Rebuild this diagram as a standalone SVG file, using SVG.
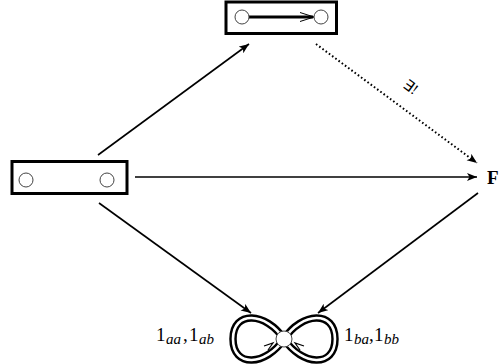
<svg xmlns="http://www.w3.org/2000/svg" width="499" height="364" viewBox="0 0 499 364">
<style>
.box{fill:none;stroke:#000;stroke-width:3}
.pt{fill:#fff;stroke:#444;stroke-width:1}
.edge{fill:none;stroke:#000;stroke-width:1.6}
.dot{fill:none;stroke:#000;stroke-width:2;stroke-dasharray:1.6 2.4}
.loopo{fill:none;stroke:#000;stroke-width:7.5}
.loopi{fill:none;stroke:#fff;stroke-width:2.6}
.lbl{font-family:"Liberation Serif",serif;font-size:19px;fill:#000}
.sub{font-style:italic;font-size:15px}
</style>
<defs>
<marker id="ah" markerUnits="userSpaceOnUse" markerWidth="12" markerHeight="10" refX="10" refY="4" orient="auto">
<path d="M0,0 L10,4 L0,8 L2.5,4 z" fill="#000"/>
</marker>
</defs>
<g id="edges">
<line class="edge" x1="98" y1="155" x2="249" y2="44" marker-end="url(#ah)"/>
<line class="edge" x1="135" y1="177" x2="477" y2="177" marker-end="url(#ah)"/>
<line class="edge" x1="99" y1="203" x2="251" y2="313" marker-end="url(#ah)"/>
<line class="edge" x1="478" y1="193" x2="318" y2="313" marker-end="url(#ah)"/>
<line class="dot" x1="316" y1="44" x2="477" y2="163" marker-end="url(#ah)"/>
<text class="lbl" text-anchor="middle" transform="translate(411,87) rotate(36)" y="5" style="font-size:15px">∃!</text>
</g>
<g id="top">
<rect class="box" x="226" y="2" width="110.5" height="31.5"/>
<line x1="249" y1="17" x2="313" y2="17" stroke="#000" stroke-width="3"/>
<path d="M300,12.5 L314,17 L300,21.5" fill="none" stroke="#000" stroke-width="1"/>
<circle class="pt" cx="242" cy="17" r="7"/>
<circle class="pt" cx="321" cy="17" r="7"/>
</g>
<g id="left">
<rect class="box" x="12" y="161.5" width="115" height="32"/>
<circle class="pt" cx="26" cy="180" r="7"/>
<circle class="pt" cx="107" cy="180" r="7"/>
</g>
<g id="F">
<text class="lbl" x="487" y="184" style="font-weight:bold;font-size:19px">F</text>
</g>
<g id="bottom">
<path class="loopo" d="M284,339 C266,312 233,310 233,339 C233,368 266,366 284,339 C302,312 335,310 335,339 C335,368 302,366 284,339 z"/>
<path class="loopi" d="M284,339 C266,312 233,310 233,339 C233,368 266,366 284,339 C302,312 335,310 335,339 C335,368 302,366 284,339 z"/>
<path d="M264,346 L273,343 L268,350" fill="none" stroke="#000" stroke-width="1.2"/>
<path d="M304,346 L295,343 L300,350" fill="none" stroke="#000" stroke-width="1.2"/>
<circle class="pt" cx="284" cy="339" r="8"/>
<text class="lbl" x="156" y="341">1<tspan class="sub" x="166" dy="3">aa</tspan><tspan x="183" dy="-3">,</tspan><tspan x="189">1</tspan><tspan class="sub" x="199" dy="3">ab</tspan></text>
<text class="lbl" x="344" y="341">1<tspan class="sub" x="354" dy="3">ba</tspan><tspan x="369" dy="-3">,</tspan><tspan x="374">1</tspan><tspan class="sub" x="384" dy="3">bb</tspan></text>
</g>
</svg>
